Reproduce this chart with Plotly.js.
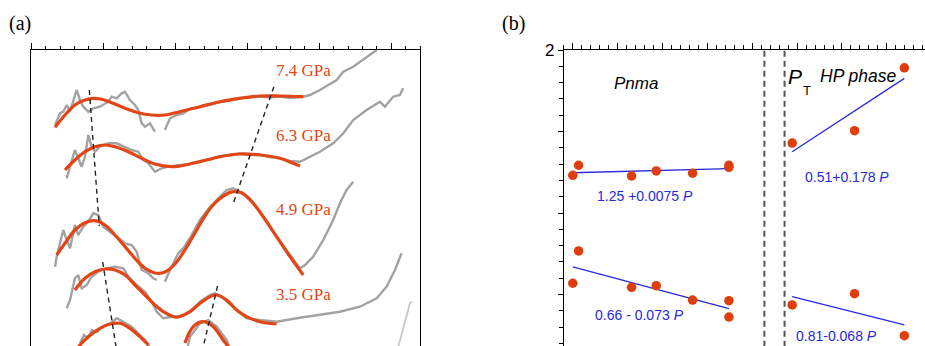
<!DOCTYPE html>
<html><head><meta charset="utf-8">
<script src="https://cdn.plot.ly/plotly-3.0.1.min.js"></script>
<style>html,body{margin:0;padding:0;background:#fff}#chart{width:925px;height:346px}</style>
</head><body><div id="chart"></div>
<script>
// ---------- Panel (a): spectra (arbitrary units, offset) ----------
const fit74X = [1.65,2.34,3.03,3.73,4.31,4.89,5.58,6.51,7.43,8.36,9.28,10.33,11.72,13.10,14.49,15.88,17.27,18.89];
const fit74Y = [21.87,23.1,24.1,24.6,24.77,24.67,24.33,23.77,23.33,23.1,23.1,23.43,23.93,24.43,24.77,25.0,25.0,24.93];
const exp74X = [1.65,1.99,2.22,2.46,2.69,3.15,3.38,3.61,3.96,4.31,4.77,5.35,5.58,5.93,6.28,6.51,6.85,7.20,7.43,7.67,7.90,8.24,8.59,null,9.28,9.63,10.10,10.56,11.02,11.72,12.41,13.10,13.80,14.49,15.19,15.88,16.58,17.27,17.97,18.89,19.35,20.05,21.21,21.67,22.36,23.29,23.99];
const exp74Y = [22.1,23.27,23.43,24.1,23.43,25.6,24.6,23.93,23.43,23.77,23.93,24.43,24.93,24.77,25.27,25.43,24.6,24.1,23.6,22.27,21.93,22.27,21.43,null,21.6,22.77,23.1,23.27,23.7,23.9,24.15,24.4,24.55,24.8,24.85,24.95,24.85,24.95,24.8,24.93,25.1,25.6,26.6,27.43,27.93,28.93,29.6];

const fit63X = [2.34,3.03,3.73,4.42,5.12,5.81,6.74,7.67,8.59,9.75,10.33,11.72,13.10,14.49,15.88,17.27,18.19,18.66];
const fit63Y = [17.6,18.6,19.43,19.93,20.1,19.93,19.43,18.77,18.2,17.93,18.0,18.43,18.93,19.2,19.1,18.77,18.27,18.0];
const exp63X = [2.46,2.69,3.03,3.26,3.50,3.73,3.96,4.19,4.42,4.77,5.35,5.93,6.51,6.97,7.43,7.78,8.13,8.59,9.06,9.51,10.33,11.02,11.72,12.41,13.10,13.80,14.49,15.19,15.88,16.58,17.27,17.97,18.66,19.12,20.05,20.97,21.67,22.36,23.29,24.22,24.56,25.14,25.60,25.83];
const exp63Y = [16.77,17.93,19.6,18.77,17.93,18.93,21.1,19.93,19.43,19.93,20.27,20.27,19.93,19.6,19.43,18.6,18.27,17.43,17.77,17.93,18.1,18.2,18.5,18.65,19.0,19.05,19.25,19.1,19.15,18.9,18.8,18.5,18.43,18.77,19.43,20.27,21.27,22.6,23.6,24.43,23.93,24.93,25.1,25.77];

const fit49X = [1.76,2.34,3.03,3.73,4.42,5.12,5.81,6.51,7.20,7.90,8.59,9.28,9.98,10.67,11.37,12.06,12.76,13.45,14.01,14.63,15.33,16.11,17.04,17.97,18.89];
const fit49Y = [9.1,10.27,11.6,12.33,12.53,12.1,11.1,9.93,8.77,7.77,7.3,7.4,8.2,9.6,11.3,13.0,14.3,15.1,15.43,15.3,14.4,12.93,10.93,8.93,7.1];
const exp49X = [1.65,1.76,1.99,2.22,2.46,2.69,3.03,3.26,3.61,3.96,4.31,4.65,5.00,5.58,6.51,6.97,7.32,7.67,8.13,8.47,8.71,null,9.28,9.63,10.21,10.56,11.02,11.72,12.41,13.10,13.57,14.03,14.72,15.19,16.11,17.04,17.97,18.66,19.01,19.58,20.28,20.97,21.44,21.90,22.36];
const exp49Y = [7.93,8.93,10.27,11.6,10.6,9.77,12.1,11.1,11.93,12.43,13.27,13.1,11.93,11.27,10.27,10.1,9.43,7.6,7.27,6.77,6.6,null,6.43,7.6,9.27,9.77,10.8,12.6,13.93,14.93,15.6,15.77,15.27,14.77,12.93,10.93,9.1,7.77,8.1,8.93,10.6,12.6,14.27,15.6,16.43];

const fit35X = [3.03,3.73,4.42,5.12,5.81,6.51,7.20,7.90,8.59,9.28,9.98,10.33,11.02,11.72,12.41,12.88,13.57,14.26,14.96,15.88,17.04];
const fit35Y = [5.6,6.77,7.43,7.7,7.6,7.1,6.1,5.1,4.1,3.33,2.9,2.95,3.43,4.27,4.93,5.1,4.6,3.6,2.93,2.43,2.2];
const exp35X = [2.46,2.69,3.03,3.26,3.50,3.85,4.19,4.65,5.24,5.81,6.39,6.74,7.32,7.90,8.36,8.71,9.17,9.63,10.33,11.02,11.72,12.41,12.76,13.33,14.26,14.96,15.88,17.04,18.43,20.05,21.44,22.83,23.99,24.68,25.26,25.72];
const exp35Y = [3.77,4.6,6.77,7.1,5.77,6.1,6.93,7.43,7.77,7.93,7.77,6.93,6.1,5.43,4.43,3.43,2.77,2.9,2.93,3.4,4.43,5.1,5.27,4.77,3.6,2.77,2.6,2.43,2.77,3.1,3.43,3.93,4.77,5.93,7.6,9.27];

const fitLowX = [3.03,3.38,3.96,4.77,5.47,6.16,6.85,7.67,8.13,null,10.67,11.25,11.94,12.64,13.33,13.68];
const fitLowY = [-0.6,0.1,0.93,1.77,2.2,2.27,1.77,0.77,0.1,null,0.3,1.93,2.43,1.93,0.6,-0.07];
const expLowX = [3.38,3.66,3.94,4.21,4.56,4.98,5.47,5.93,6.39,6.97,7.90,8.24,null,10.88,11.02,11.72,12.29,12.88,13.57,13.73];
const expLowY = [0.27,1.1,0.8,1.6,1.4,2.0,2.2,2.77,2.43,1.93,0.6,-0.1,null,0,0.93,2.27,2.6,1.93,0.6,0];
const tailLowX = [25.49,25.95,26.30,26.42];
const tailLowY = [-0.1,2.27,4.27,4.43];

const guideAX = [4.03,4.72,null,4.96,5.92];
const guideAY = [25.6,12.0,null,8.4,-0.4];
const guideBX = [16.85,13.99,null,12.94,11.94];
const guideBY = [25.93,14.1,null,6.0,-0.1];

const pressureLabels = ['7.4 GPa','6.3 GPa','4.9 GPa','3.5 GPa'];
const labelX = [18.94,18.94,18.94,18.94];
const labelY = [27.53,21.03,13.7,5.2];

// ---------- Panel (b) ----------
const pnmaP = [0, 0.13, 1.31, 1.86, 2.67, 3.48, 3.48];
const pnmaUpper = [1.231,1.293,1.227,1.258,1.244,1.293,1.280];
const pnmaLower = [0.569,0.767,0.544,0.554,0.466,0.462,0.362];
const hpP = [4.89, 6.28, 7.39];
const hpUpper = [1.429,1.505,1.891];
const hpLower = [0.436,0.505,0.247];
const pnmaFitP = [0, 3.48];
const pnmaUpperFit = [1.247,1.272];
const pnmaLowerFit = [0.669,0.413];
const hpFitP = [4.89, 7.39];
const hpUpperFit = [1.376,1.826];
const hpLowerFit = [0.487,0.313];
const boundaryP = [4.27, 4.72];
const boundaryY = [0.18, 2.0];
const fitLabels = ['1.25 +0.0075 <i>P</i>','0.66 - 0.073 <i>P</i>','0.51+0.178 <i>P</i>','0.81-0.068 <i>P</i>'];
const fitLabelP = [1.60, 1.48, 6.11, 5.885];
const fitLabelY = [1.104, 0.374, 1.223, 0.245];

const RED = 'rgb(226,70,22)';
const GRAY = 'rgb(162,162,162)';
const BLUE = 'rgb(40,40,225)';
const DOT = 'rgb(222,62,12)';

const traces = [];
function addPair(ex, ey, fx, fy) {
  traces.push({x: ex, y: ey, xaxis:'x', yaxis:'y', mode:'lines', line:{color:GRAY, width:2.4}, hoverinfo:'skip'});
  traces.push({x: fx, y: fy, xaxis:'x', yaxis:'y', mode:'lines', line:{color:RED, width:3.2, shape:'spline', smoothing:1}, hoverinfo:'skip'});
}
addPair(exp74X, exp74Y, fit74X, fit74Y);
addPair(exp63X, exp63Y, fit63X, fit63Y);
addPair(exp49X, exp49Y, fit49X, fit49Y);
addPair(exp35X, exp35Y, fit35X, fit35Y);
addPair(expLowX, expLowY, fitLowX, fitLowY);
traces.push({x: tailLowX, y: tailLowY, xaxis:'x', yaxis:'y', mode:'lines', line:{color:'rgb(200,200,200)', width:1.8}});
[[guideAX, guideAY],[guideBX, guideBY]].forEach(g => traces.push({x:g[0], y:g[1], xaxis:'x', yaxis:'y', mode:'lines', line:{color:'#222', width:1.4, dash:'5px,4px'}}));

// panel b
boundaryP.forEach(p => traces.push({x:[p,p], y:boundaryY, xaxis:'x2', yaxis:'y2', mode:'lines', line:{color:'#555', width:2, dash:'6px,4px'}}));
[[pnmaFitP,pnmaUpperFit],[pnmaFitP,pnmaLowerFit],[hpFitP,hpUpperFit],[hpFitP,hpLowerFit]].forEach(f =>
  traces.push({x:f[0], y:f[1], xaxis:'x2', yaxis:'y2', mode:'lines', line:{color:BLUE, width:1.3}}));
[[pnmaP,pnmaUpper],[pnmaP,pnmaLower],[hpP,hpUpper],[hpP,hpLower]].forEach(s =>
  traces.push({x:s[0], y:s[1], xaxis:'x2', yaxis:'y2', mode:'markers', marker:{color:DOT, size:9.5, line:{width:0}}}));

const annotations = [];
pressureLabels.forEach((t,i) => annotations.push({x:labelX[i], y:labelY[i], xref:'x', yref:'y', text:t, showarrow:false,
  font:{family:'Liberation Serif, Times New Roman, serif', size:17, color:RED}}));
fitLabels.forEach((t,i) => annotations.push({x:fitLabelP[i], y:fitLabelY[i], xref:'x2', yref:'y2', text:t, showarrow:false,
  font:{family:'Liberation Sans, Arial, sans-serif', size:14, color:BLUE}}));
annotations.push({x:1.40, y:1.796, xref:'x2', yref:'y2', text:'<i>Pnma</i>', showarrow:false, font:{family:'Liberation Sans, Arial, sans-serif', size:17, color:'#000'}});
annotations.push({x:4.96, y:1.84, xref:'x2', yref:'y2', text:'<i>P</i>', showarrow:false, font:{family:'Liberation Sans, Arial, sans-serif', size:21, color:'#000'}});
annotations.push({x:5.22, y:1.75, xref:'x2', yref:'y2', text:'T', showarrow:false, font:{family:'Liberation Sans, Arial, sans-serif', size:13, color:'#000'}});
annotations.push({x:6.35, y:1.84, xref:'x2', yref:'y2', text:'<i>HP phase</i>', showarrow:false, font:{family:'Liberation Sans, Arial, sans-serif', size:17.5, color:'#000'}});
annotations.push({x:19.5/925, y:1-23/346, xref:'paper', yref:'paper', xanchor:'center', yanchor:'middle', text:'(a)', showarrow:false, font:{family:'Liberation Serif, serif', size:20, color:'#000'}});
annotations.push({x:513.5/925, y:1-23/346, xref:'paper', yref:'paper', xanchor:'center', yanchor:'middle', text:'(b)', showarrow:false, font:{family:'Liberation Serif, serif', size:20, color:'#000'}});

const topDom = 1 - 50/346;
const layout = {
  width:925, height:346, margin:{l:0,r:0,t:0,b:0}, showlegend:false,
  paper_bgcolor:'#fff', plot_bgcolor:'rgba(0,0,0,0)',
  xaxis:{domain:[31.3/925, 420/925], range:[0,27], anchor:'y', side:'top', showline:true, linecolor:'#000', linewidth:1,
    ticks:'outside', ticklen:6, tickcolor:'#000', tick0:0, dtick:5, showticklabels:false, showgrid:false, zeroline:false,
    minor:{ticks:'outside', dtick:1, ticklen:3.5, tickcolor:'#000', showgrid:false}},
  yaxis:{domain:[0, topDom], range:[0,29.6], anchor:'x', showline:true, mirror:true, linecolor:'#000', linewidth:1,
    ticks:'', showticklabels:false, showgrid:false, zeroline:false},
  xaxis2:{domain:[563.8/925, 1], range:[-0.2,7.85], anchor:'y2', side:'top', showline:true, linecolor:'#000', linewidth:1,
    ticks:'outside', ticklen:6, tickcolor:'#000', tick0:0, dtick:1, showticklabels:false, showgrid:false, zeroline:false,
    minor:{ticks:'outside', dtick:0.2, ticklen:4, tickcolor:'#000', showgrid:false}},
  yaxis2:{domain:[0, topDom], range:[0.184,2], anchor:'x2', showline:true, linecolor:'#000', linewidth:1,
    ticks:'outside', ticklen:5, tickcolor:'#000', tickvals:[0.5,1,1.5,2], ticktext:['','','','2'],
    tickfont:{family:'Liberation Sans, Arial, sans-serif', size:17, color:'#000'}, showgrid:false, zeroline:false,
    minor:{ticks:'outside', dtick:0.1, ticklen:3.5, tickcolor:'#000', showgrid:false}},
  annotations: annotations
};
Plotly.newPlot('chart', traces, layout, {staticPlot:true, displayModeBar:false});
</script>
</body></html>
